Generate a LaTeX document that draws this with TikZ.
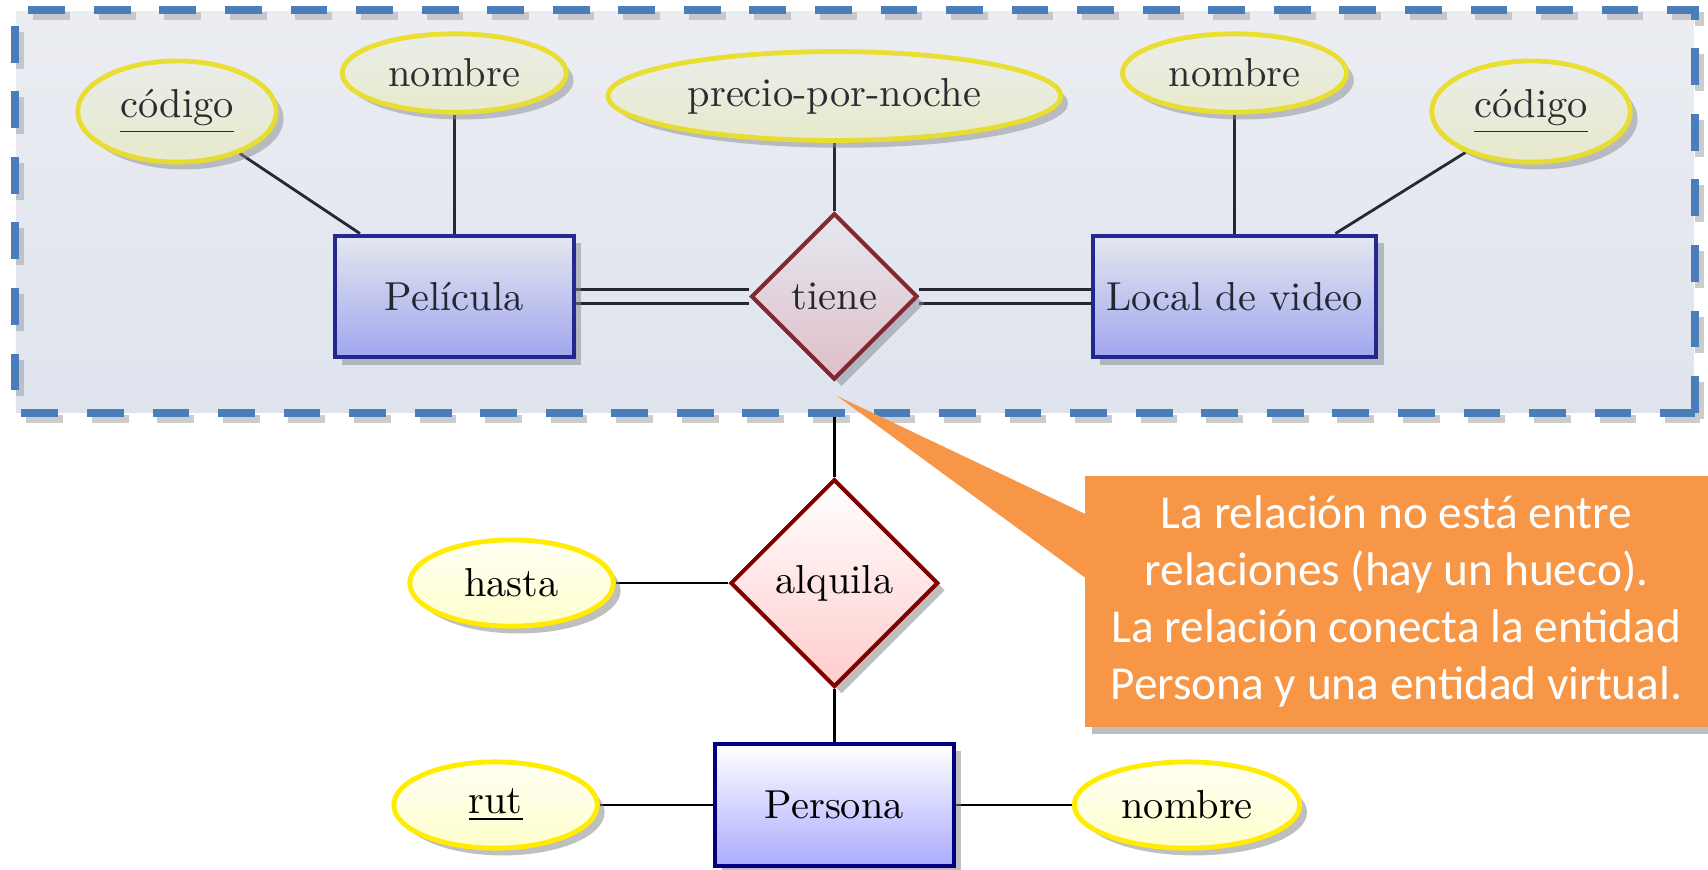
\documentclass[tikz,border=0pt]{standalone}
\usepackage{fontspec}
\newfontfamily\notafont{Carlito}
\usetikzlibrary{shapes.geometric,shadows,backgrounds}
\definecolor{entborde}{RGB}{0,0,128}
\definecolor{relborde}{RGB}{128,0,0}
\definecolor{atrborde}{RGB}{255,236,0}
\definecolor{marcoazul}{RGB}{74,126,187}
\definecolor{velotop}{RGB}{179,187,207}
\definecolor{velobottom}{RGB}{127,147,187}
\definecolor{notanaranja}{RGB}{247,150,70}

\begin{document}
\begin{tikzpicture}[sombra/.style={drop shadow={shadow xshift=1.8pt,shadow yshift=-1.8pt}},
	entidad/.style={rectangle,draw=entborde,line width=1pt,top color=white,bottom color=blue!33,minimum width=2.08cm,minimum height=1.06cm,sombra},
	relacion/.style={diamond,aspect=1,draw=relborde,line width=1pt,top color=white,bottom color=red!20,sombra},
	atributo/.style={ellipse,draw=atrborde,line width=1.2pt,top color=yellow!4,bottom color=yellow!20,sombra},
	atrbajo/.style={atributo,minimum width=1.77cm,minimum height=0.75cm},
	linea/.style={draw=black,line width=0.7pt},
	doble/.style={linea,double,double distance=2.8pt},
	velo/.style={rectangle,top color=velotop,bottom color=velobottom,fill opacity=0.25,inner sep=0pt},
	marco/.style={draw=marcoazul,line width=2pt,dash pattern=on 0.32cm off 0.25cm},
	nota/.style={rectangle,fill=notanaranja,text=white,align=center,minimum width=5.417cm,minimum height=2.183cm,font=\notafont\fontsize{11.7}{14.1}\selectfont,sombra}
]
	\useasboundingbox (0,0) rectangle (14.852,-7.565);

	\node[entidad] (pelicula) at (3.95,-2.578) {Película};
	\node[relacion] (tiene) at (7.255,-2.578) {tiene};
	\node[entidad] (local) at (10.735,-2.578) {Local de video};
	\node[atributo] (precio) at (7.255,-0.835) {precio-por-noche};
	\node[atributo] (nombrep) at (3.95,-0.635) {nombre};
	\node[atributo] (codigop) at (1.539,-0.97) {\underline{código}};
	\node[atributo] (nombrel) at (10.735,-0.635) {nombre};
	\node[atributo] (codigol) at (13.313,-0.97) {\underline{código}};

	\node[relacion] (alquila) at (7.255,-5.07) {alquila};
	\node[atrbajo] (hasta) at (4.448,-5.07) {hasta};
	\node[entidad] (persona) at (7.255,-7.0) {Persona};
	\node[atrbajo] (rut) at (4.309,-7.0) {\underline{rut}};
	\node[atrbajo,minimum width=1.96cm] (nombrepe) at (10.322,-7.0) {nombre};

	\node[velo,minimum width=14.59cm,minimum height=3.487cm] (virtual) at (7.434,-1.8395) {};
	\draw[marco] (virtual.south east) rectangle (virtual.north west);

	\begin{scope}[on background layer]
		\fill[white] (0,0) rectangle (14.852,-7.565);
		\draw[marco,draw=black!20] ([shift={(1.2pt,-1.5pt)}]virtual.south east) rectangle ([shift={(1.2pt,-1.5pt)}]virtual.north west);
		\draw[linea] (codigop) -- (pelicula);
		\draw[linea] (nombrep) -- (pelicula);
		\draw[doble] (pelicula) -- (tiene);
		\draw[doble] (tiene) -- (local);
		\draw[linea] (precio) -- (tiene);
		\draw[linea] (nombrel) -- (local);
		\draw[linea] (codigol) -- (local);
		\draw[linea] (virtual.south -| alquila) -- (alquila);
		\draw[linea] (hasta) -- (alquila);
		\draw[linea] (alquila) -- (persona);
		\draw[linea] (rut) -- (persona);
		\draw[linea] (persona) -- (nombrepe);
	\end{scope}

	\node[nota] (aviso) at (12.143,-5.23) {La relación no está entre\\relaciones (hay un hueco).\\La relación conecta la entidad\\Persona y una entidad virtual.};
	\coordinate (punta) at (7.278,-3.443);
	\fill[notanaranja] (punta) -- ([shift={(0.05,-0.357)}]aviso.north west) -- ([shift={(0.05,-0.922)}]aviso.north west) -- cycle;
\end{tikzpicture}
\end{document}
